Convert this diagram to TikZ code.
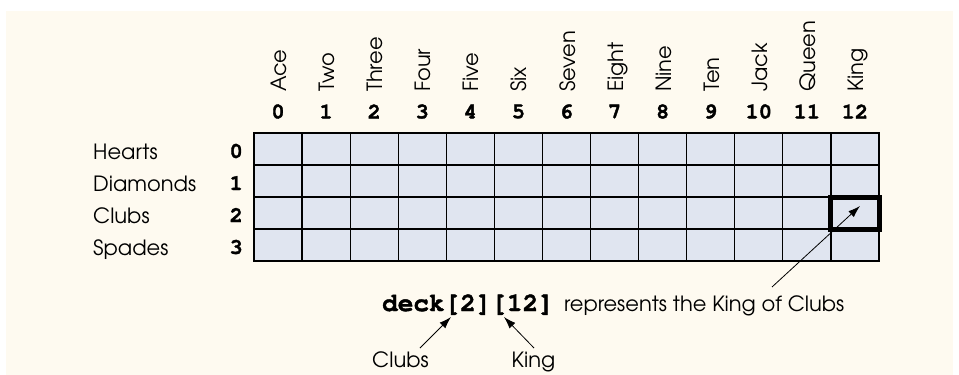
\documentclass[tikz,border=0pt]{standalone}
\usepackage{fontspec}
\setmainfont{TeX Gyre Adventor}
\newfontfamily\codefont[FakeBold=1.6]{texgyrecursor-bold.otf}
\usetikzlibrary{arrows.meta}
\definecolor{bgcream}{RGB}{254,250,240}
\definecolor{cellfill}{RGB}{224,229,240}
\begin{document}
\begin{tikzpicture}[x=1pt,y=-1pt,
  cell/.style={draw=black, fill=cellfill, line width=1.2pt, minimum width=48.077pt, minimum height=32pt, inner sep=0pt, outer sep=0pt},
  lbl/.style={font=\fontsize{21}{25}\selectfont, inner sep=0pt},
  num/.style={font=\codefont\fontsize{22}{25}\selectfont, inner sep=0pt},
  code/.style={font=\codefont\fontsize{26}{29}\selectfont, inner sep=0pt},
  arr/.style={-{Latex[length=12pt,width=8pt]}, line width=0.8pt}]
\useasboundingbox (0,0) rectangle (959,375);
\fill[bgcream] (6,11) rectangle (953,375);
% grid
\foreach \c in {0,...,12}{
  \foreach \r in {0,...,3}{
    \node[cell] (c-\r-\c) at ({254+48.077*\c+24.038}, {133+32*\r+16}) {};
  }
}
% column labels
\foreach \c/\t in {0/Ace,1/Two,2/Three,3/Four,4/Five,5/Six,6/Seven,7/Eight,8/Nine,9/Ten,10/Jack,11/Queen,12/King}{
  \node[lbl, rotate=90, anchor=base west] (cl-\c) at ({254+48.077*\c+24.038+8.5}, 92) {\t};
  \node[num] (cn-\c) at ({254+48.077*\c+24.038}, 111.5) {\c};
}
% row labels
\foreach \r/\t in {0/Hearts,1/Diamonds,2/Clubs,3/Spades}{
  \node[lbl, anchor=base west] (rl-\r) at (93, {159+32*\r}) {\t};
  \node[num, anchor=east] (rn-\r) at (243, {151+32*\r}) {\r};
}
% highlighted cell
\draw[line width=5pt] (c-2-12.north west) rectangle (c-2-12.south east);
% bottom text
\node[code, anchor=base west] (deck) at (382,311) {deck[2][12]};
\node[lbl, anchor=base west] (rep) at ([xshift=10pt]deck.base east) {represents the King of Clubs};
\node[lbl, anchor=base] (clubs) at (400.5,367) {Clubs};
\node[lbl, anchor=base] (king) at (533.5,367) {King};
\coordinate (clubsfrom) at (420,348);
\coordinate (clubstip) at (451,317);
\coordinate (kingfrom) at (534,348);
\coordinate (kingtip) at (504,317);
\coordinate (repfrom) at (772,287);
\coordinate (celltip) at (860,206);
\draw[arr] (clubsfrom) -- (clubstip);
\draw[arr] (kingfrom) -- (kingtip);
\draw[arr] (repfrom) -- (celltip);
\end{tikzpicture}
\end{document}
